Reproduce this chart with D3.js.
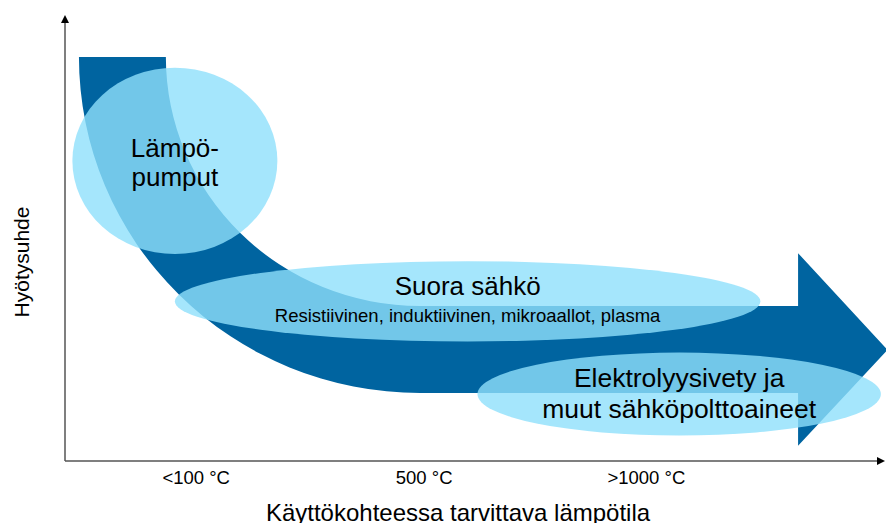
<!DOCTYPE html>
<html>
<head>
<meta charset="utf-8">
<script src="https://cdn.jsdelivr.net/npm/d3@7"></script>
<style>
  body { margin:0; background:#fff; }
  text { font-family: "Liberation Sans", Arial, sans-serif; fill:#000; }
</style>
</head>
<body>
<div id="chart"></div>
<script>
// conceptual axes, both 0..100
var tickLabels = ["<100 °C", "500 °C", ">1000 °C"]
var tickValues = [16, 43.8, 70.9]

// technologies: centre (x,y) and half spans in axis units
var techNames = [["Lämpö-", "pumput"], ["Suora sähkö"], ["Elektrolyysivety ja", "muut sähköpolttoaineet"]]
var techX = [13.4, 49.1, 74.9]
var techY = [67.3, 35.8, 15.0]
var techSpanX = [12.5, 35.7, 24.6]
var techSpanY = [20.9, 9.0, 9.3]
var subLabel = ["", "Resistiivinen, induktiivinen,  mikroaallot, plasma", ""]

// big curved arrow outline (axis units)
var arrowPts = [[1.7, 90.6], [12.3, 90.6], [43.3, 34.75], [89.4, 34.75], [89.4, 46.6],
                [100.3, 24.9], [89.4, 3.4], [89.4, 15.25], [43.3, 15.25]]

var W = 886, H = 523
var svg = d3.select("#chart").append("svg").attr("width", W).attr("height", H)

var x = d3.scaleLinear().domain([0, 100]).range([65, 885])
var y = d3.scaleLinear().domain([0, 100]).range([461, 15])

// arrow
var P = arrowPts.map(function(d){ return [x(d[0]), y(d[1])] })
var innerRx = P[2][0] - P[1][0], innerRy = P[2][1] - P[1][1]
var outerRx = P[8][0] - P[0][0], outerRy = P[8][1] - P[0][1]
var path = "M" + P[0] + "L" + P[1] +
    "A" + innerRx + "," + innerRy + " 0 0 0 " + P[2] +
    "L" + P[3] + "L" + P[4] + "L" + P[5] + "L" + P[6] + "L" + P[7] + "L" + P[8] +
    "A" + outerRx + "," + outerRy + " 0 0 1 " + P[0] + "Z"
svg.append("path").attr("d", path).attr("fill", "#0064a0")

// ellipses
svg.selectAll("ellipse").data(techX).enter().append("ellipse")
    .attr("cx", function(d){ return x(d) })
    .attr("cy", function(d, i){ return y(techY[i]) })
    .attr("rx", function(d, i){ return x(techSpanX[i]) - x(0) })
    .attr("ry", function(d, i){ return y(0) - y(techSpanY[i]) })
    .attr("fill", "#8fe0fb")
    .attr("opacity", 0.8)

// labels
var lineOffsets = [[-4, 25], [-6], [-7, 24]]
techNames.forEach(function(lines, i){
    lines.forEach(function(t, j){
        svg.append("text").text(t)
            .attr("x", x(techX[i]))
            .attr("y", y(techY[i]) + lineOffsets[i][j])
            .attr("text-anchor", "middle")
            .style("font-size", i == 2 ? "26.5px" : "26px")
    })
    if (subLabel[i]) {
        svg.append("text").text(subLabel[i])
            .attr("x", x(techX[i]))
            .attr("y", y(techY[i]) + 21)
            .attr("text-anchor", "middle")
            .style("font-size", "18.5px")
    }
})

// axes
var defs = svg.append("defs")
defs.append("marker").attr("id", "arr").attr("viewBox", "0 0 10 10")
    .attr("refX", 5).attr("refY", 5).attr("markerWidth", 8).attr("markerHeight", 8)
    .attr("markerUnits", "userSpaceOnUse").attr("orient", "auto")
    .append("path").attr("d", "M0,0L10,5L0,10Z").attr("fill", "#000")

svg.append("line").attr("x1", x(0)).attr("y1", y(0)).attr("x2", x(0)).attr("y2", y(100) + 4)
    .attr("stroke", "#555").attr("stroke-width", 1.5).attr("marker-end", "url(#arr)")
svg.append("line").attr("x1", x(0)).attr("y1", y(0)).attr("x2", x(100) - 4).attr("y2", y(0))
    .attr("stroke", "#555").attr("stroke-width", 1.5).attr("marker-end", "url(#arr)")

svg.selectAll("text.tick").data(tickValues).enter().append("text")
    .attr("class", "tick")
    .attr("x", function(d){ return x(d) })
    .attr("y", 484)
    .attr("text-anchor", "middle")
    .style("font-size", "18.5px")
    .text(function(d, i){ return tickLabels[i] })

svg.append("text").text("Käyttökohteessa tarvittava lämpötila")
    .attr("x", 458).attr("y", 521).attr("text-anchor", "middle")
    .style("font-size", "24px")

svg.append("text").text("Hyötysuhde")
    .attr("transform", "translate(29,262) rotate(-90)")
    .attr("text-anchor", "middle")
    .style("font-size", "21px")
</script>
</body>
</html>
